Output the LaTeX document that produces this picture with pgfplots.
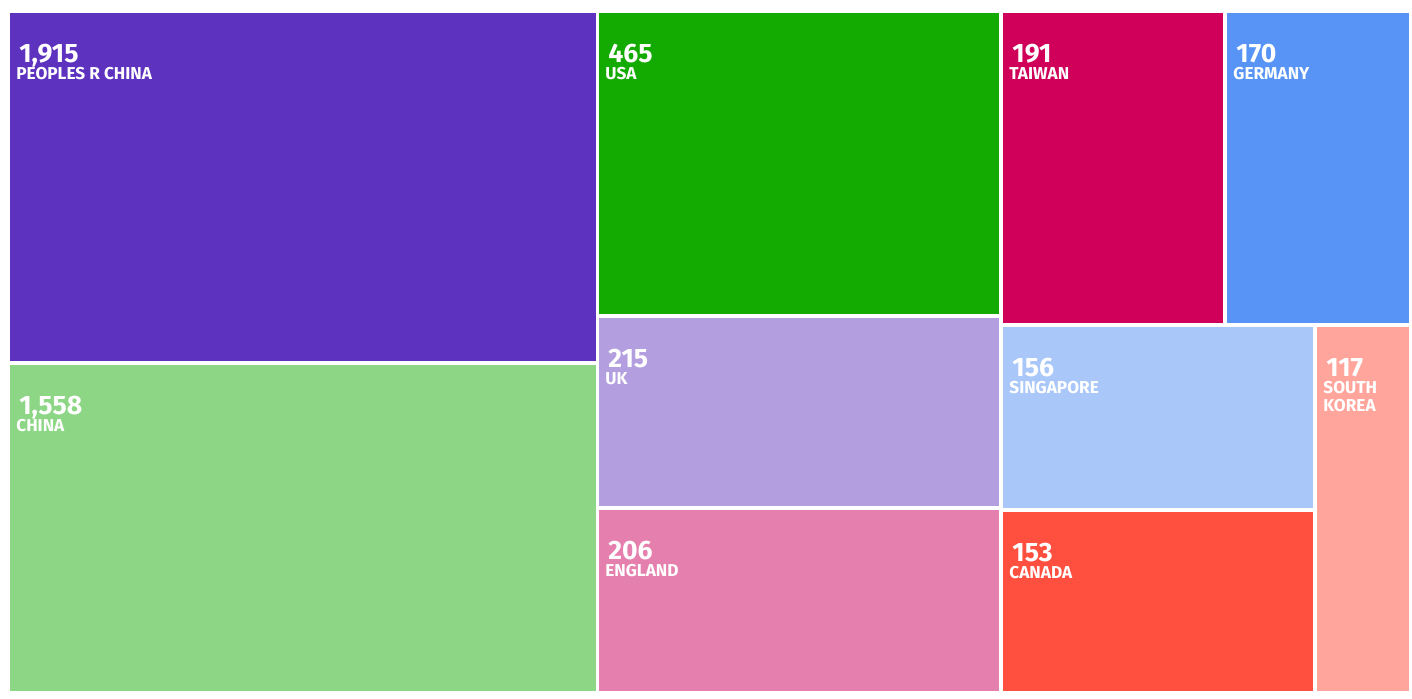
\documentclass[border=0pt]{standalone}
\usepackage{pgfplots}
\pgfplotsset{compat=1.18}
\usepackage{fontspec}
\setmainfont{Fira Sans}
\definecolor{cPRC}{HTML}{5D32BF}
\definecolor{cCHN}{HTML}{8CD685}
\definecolor{cUSA}{HTML}{13AA02}
\definecolor{cUK}{HTML}{B39FE0}
\definecolor{cENG}{HTML}{E57FAD}
\definecolor{cTWN}{HTML}{D0005A}
\definecolor{cGER}{HTML}{5794F5}
\definecolor{cSGP}{HTML}{A9C8F9}
\definecolor{cCAN}{HTML}{FF4F3F}
\definecolor{cKOR}{HTML}{FFA59C}

% box: colour, x0, y0, x1, y1 (pixel grid), value, name, second name line
\newcommand{\tile}[8]{%
  \addplot[fill=#1, draw=none] coordinates {(#2,#3) (#4,#3) (#4,#5) (#2,#5)} --cycle;
  \node[anchor=base west, inner sep=0pt, text=white, text depth=0pt,
        font=\bfseries\fontsize{13.3}{13.3}\selectfont]
    at (axis cs:#2+9,#3+49) {#6};
  \node[anchor=base west, inner sep=0pt, text=white, text height=0.69em, text depth=0pt,
        font=\bfseries\fontsize{8.6}{8.6}\selectfont]
    at (axis cs:#2+6,#3+66) {#7};
  \node[anchor=base west, inner sep=0pt, text=white, text height=0.69em, text depth=0pt,
        font=\bfseries\fontsize{8.6}{8.6}\selectfont]
    at (axis cs:#2+6,#3+84) {#8};
}

\begin{document}
\begin{tikzpicture}
\begin{axis}[width=706pt, height=349pt, scale only axis,
  xmin=0, xmax=1412, ymin=0, ymax=698, y dir=reverse,
  hide axis, clip=false]
\path (axis cs:0,0) rectangle (axis cs:1412,698);
\tile{cPRC}{10}{13}{596}{361}{1,915}{PEOPLES R CHINA}{}
\tile{cCHN}{10}{365}{596}{691}{1,558}{CHINA}{}
\tile{cUSA}{599}{13}{999}{314}{465}{USA}{}
\tile{cUK}{599}{318}{999}{506}{215}{UK}{}
\tile{cENG}{599}{510}{999}{691}{206}{ENGLAND}{}
\tile{cTWN}{1003}{13}{1223}{323}{191}{TAIWAN}{}
\tile{cGER}{1227}{13}{1409}{323}{170}{GERMANY}{}
\tile{cSGP}{1003}{327}{1313}{508}{156}{SINGAPORE}{}
\tile{cCAN}{1003}{512}{1313}{691}{153}{CANADA}{}
\tile{cKOR}{1317}{327}{1409}{691}{117}{SOUTH}{KOREA}
\end{axis}
\end{tikzpicture}
\end{document}
